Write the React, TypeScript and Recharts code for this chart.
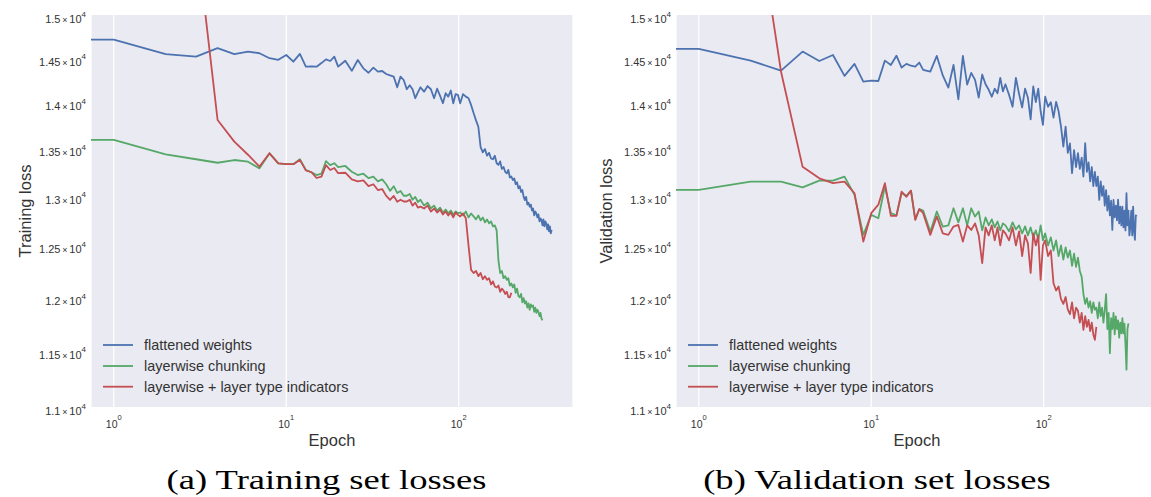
import React from 'react';
import { LineChart, Line, XAxis, YAxis, CartesianGrid } from 'recharts';

// epochs (0.5 stands in for epoch 0, which sits off the log axis)
const EPOCHS = [
  0.5, 1, 2, 3, 4, 5, 6, 7, 8, 9, 10, 11, 12, 13, 14, 15, 16, 17, 18, 19, 20,
  22, 24, 26, 28, 30, 32, 34, 36, 38, 40, 42, 44, 46, 48, 50, 52, 54, 56, 58, 60,
  63, 66, 69, 72, 75, 78, 81, 84, 87, 90, 93, 96, 99,
  102, 106, 110, 114, 118, 122, 126, 130, 134, 138, 142, 146, 150, 154, 158, 162, 166, 170, 174, 178,
  182, 186, 190, 194, 198, 202, 206, 210, 214, 218, 222, 226, 230, 234, 238, 242, 246, 250, 254, 258,
  262, 266, 270, 274, 278, 282, 286, 290, 294, 298, 302, 306, 310, 314, 318, 322, 326, 330, 334, 338,
  342, 346,
];

const TRAIN_FLAT = [
  14711, 14711, 14542, 14514, 14611, 14542, 14572, 14553, 14496, 14477, 14533, 14456, 14545, 14399, 14402, 14399, 14440, 14483, 14464, 14514, 14399,
  14467, 14352, 14475, 14380, 14330, 14388, 14342, 14350, 14316, 14300, 14286, 14166, 14286, 14248, 14144, 14190, 14144, 14044, 14110, 14166,
  14117, 14180, 14144, 14044, 14150, 14070, 13988, 14100, 14062, 14130, 13988, 14090, 14081,
  13988, 14090, 14062, 14044, 13970, 13880, 13800, 13730, 13510, 13456, 13490, 13420, 13450, 13390, 13382, 13420, 13340, 13322, 13360, 13280,
  13300, 13250, 13234, 13270, 13190, 13200, 13164, 13180, 13120, 13140, 13077, 13100, 13040, 13060, 12990, 12957, 12990, 12910, 12930, 12889,
  12910, 12850, 12870, 12800, 12840, 12821, 12780, 12810, 12740, 12770, 12754, 12700, 12760, 12690, 12740, 12720, 12660, 12710, 12640, 12690,
  12620, 12653,
];

const TRAIN_CHUNK = [
  13588, 13588, 13434, 13382, 13345, 13374, 13356, 13286, 13445, 13338, 13330, 13330, 13382, 13269, 13245, 13216, 13230, 13363, 13320, 13340, 13300,
  13311, 13250, 13216, 13230, 13183, 13200, 13150, 13170, 13120, 13051, 13100, 13030, 13050, 13001, 13001, 13020, 12960, 12990, 12937, 12960,
  12900, 12930, 12873, 12900, 12850, 12880, 12830, 12860, 12823, 12850, 12810, 12840, 12823,
  12830, 12800, 12840, 12780, 12820, 12790, 12760, 12800, 12750, 12780, 12730, 12760, 12720, 12740, 12690, 12700, 12650, 12350, 12230, 12250,
  12180, 12200, 12164, 12180, 12110, 12130, 12091, 12120, 12040, 12080, 12010, 11998, 12030, 11950, 11990, 11939, 11960, 11900, 11940, 11880,
  11930, 11908, 11920, 11860, 11900, 11850, 11880, 11860, 11820, 11850, 11798, 11780,
];

const TRAIN_TYPES = [
  26000, 26000, 19000, 16000, 13804, 13570, 13430, 13305, 13445, 13338, 13330, 13330, 13375, 13265, 13245, 13185, 13200, 13320, 13269, 13290, 13235,
  13240, 13170, 13150, 13160, 13100, 13120, 13060, 13070, 13000, 12958, 13000, 12940, 12960, 12942, 12942, 12960, 12900, 12930, 12880, 12890,
  12870, 12900, 12840, 12870, 12830, 12860, 12810, 12840, 12800, 12830, 12780, 12830, 12806,
  12790, 12820, 12772, 12500, 12260, 12230, 12250, 12200, 12230, 12170, 12200, 12164, 12180, 12120, 12150, 12100, 12091, 12110, 12050, 12080,
  12062, 12030, 12050, 12000, 11998, 12040,
];

const VAL_FLAT = [
  14603, 14603, 14468, 14354, 14572, 14464, 14533, 14294, 14431, 14230, 14240, 14237, 14468, 14419, 14525, 14389, 14431, 14410, 14400, 14446, 14363,
  14343, 14522, 14300, 14162, 14419, 14031, 14522, 14197, 14328, 14250, 14052, 14310, 14200, 14138, 14061, 14150, 14100, 14272, 14120, 14200,
  14080, 13950, 14272, 14090, 13942, 14150, 14050, 13810, 14177, 14000, 14150, 13900, 13751,
  14061, 13950, 14000, 13830, 14004, 13900, 13731, 13516, 13731, 13450, 13550, 13235, 13480, 13300, 13446, 13280, 13400, 13200, 13553, 13250,
  13350, 13150, 13300, 13100, 13250, 13100, 13200, 12958, 13150, 13000, 13100, 12900, 13060, 12850, 13000, 12800, 12950, 12654, 12958, 12780,
  12900, 12750, 12960, 12720, 12890, 12700, 12890, 12680, 12850, 12650, 13027, 12700, 12850, 12600, 12688, 12850, 12600, 12890, 12650, 12555,
  12800, 12790,
];

const VAL_CHUNK = [
  13062, 13062, 13148, 13148, 13088, 13158, 13158, 13199, 13010, 12605, 12806, 12772, 13097, 12823, 12800, 13030, 13000, 13054, 12760, 12865, 12850,
  12637, 12840, 12688, 12700, 12873, 12730, 12873, 12700, 12873, 12789, 12840, 12650, 12780, 12700, 12760, 12680, 12740, 12650, 12720, 12700,
  12640, 12730, 12660, 12700, 12620, 12690, 12600, 12680, 12580, 12650, 12560, 12700, 12550,
  12620, 12500, 12580, 12450, 12550, 12395, 12500, 12360, 12480, 12380, 12450, 12300, 12420, 12290, 12380, 12250, 12195, 12028, 11935, 11990,
  11900, 11960, 11850, 11950, 11880, 11900, 11800, 11950, 11820, 11900, 11760, 11880, 12028, 11700, 11850, 11479, 11800, 11700, 11850, 11650,
  11818, 11700, 11780, 11620, 11760, 11660, 11800, 11660, 11750, 11560, 11330, 11700, 11752,
];

const VAL_TYPES = [
  26000, 26000, 16790, 14342, 13302, 13182, 13131, 13148, 13027, 12538, 12823, 12910, 13131, 12796, 12796, 13044, 12990, 13054, 12755, 12865, 12823,
  12605, 12789, 12620, 12605, 12688, 12705, 12538, 12700, 12654, 12720, 12600, 12326, 12680, 12600, 12700, 12550, 12680, 12500, 12650, 12620,
  12550, 12680, 12500, 12640, 12395, 12600, 12520, 12230, 12620, 12500, 12600, 12164, 12500,
  12550, 12395, 12450, 12131, 12062, 12100, 11980, 11935, 12000, 11880, 11838, 11950, 11800, 11900, 11870, 11760, 11850, 11693, 11820, 11720,
  11785, 11680, 11760, 11650, 11600, 11720,
];

const SERIES_KEYS = ['flat', 'chunk', 'types'];
const SERIES_NAMES = ['flattened weights', 'layerwise chunking', 'layerwise + layer type indicators'];
const SERIES_COLORS = ['#4C72B0', '#55A868', '#C44E52'];

const X_TICKS = [1, 10, 100];
const X_TICK_EXPONENTS = ['0', '1', '2'];
const Y_TICKS = [11000, 11500, 12000, 12500, 13000, 13500, 14000, 14500, 15000];
const Y_TICK_MANTISSAS = ['1.1', '1.15', '1.2', '1.25', '1.3', '1.35', '1.4', '1.45', '1.5'];

const SANS = '"Liberation Sans", Arial, sans-serif';
const SERIF = '"Liberation Serif", "Times New Roman", serif';
const TEXT = '#333';

const CHART_W = 573;
const CHART_H = 460;
const PLOT_LEFT = 91;
const PLOT_TOP = 15;
const PLOT_BOTTOM = 407;

const XTick = (props: any) => {
  const { x, y, payload } = props;
  const exp = X_TICK_EXPONENTS[X_TICKS.indexOf(payload.value)];
  return (
    <text x={x} y={y + 21} textAnchor="middle" fontSize={10.5} fill={TEXT} fontFamily={SANS}>
      10<tspan dy={-8} fontSize={7.5}>{exp}</tspan>
    </text>
  );
};

const YTick = (props: any) => {
  const { x, y, payload } = props;
  const m = Y_TICK_MANTISSAS[Y_TICKS.indexOf(payload.value)];
  return (
    <text x={x - 5} y={y + 8} textAnchor="end" fontSize={11} fill={TEXT} fontFamily={SANS}>
      {m}
      <tspan fontSize={9}>{'\u2009×\u2009'}</tspan>
      10<tspan dy={-6.5} fontSize={8}>4</tspan>
    </text>
  );
};

interface PanelProps {
  left: number;
  yLabel: string;
  yLabelX: number;
  flat: number[];
  chunk: number[];
  types: number[];
}

const Panel: React.FC<PanelProps> = ({ left, yLabel, yLabelX, flat, chunk, types }) => {
  const rows = EPOCHS.map((epoch, i) => ({
    epoch,
    flat: flat[i] ?? null,
    chunk: chunk[i] ?? null,
    types: types[i] ?? null,
  }));
  const plotCenterX = PLOT_LEFT + (CHART_W - PLOT_LEFT) / 2;
  const plotCenterY = (PLOT_TOP + PLOT_BOTTOM) / 2;
  const legendRows = [345, 366, 386.7];

  return (
    <div style={{ position: 'absolute', left, top: 0, width: CHART_W, height: CHART_H }}>
      <LineChart
        width={CHART_W}
        height={CHART_H}
        data={rows}
        margin={{ top: PLOT_TOP, right: 0, bottom: 0, left: 0 }}
      >
        <CartesianGrid horizontal={false} stroke="#ffffff" strokeWidth={1.2} fill="#EAEAF2" />
        <XAxis
          dataKey="epoch"
          type="number"
          scale="log"
          domain={[0.738, 460]}
          allowDataOverflow
          ticks={X_TICKS}
          interval={0}
          tick={XTick}
          tickLine={false}
          axisLine={false}
          tickSize={0}
          tickMargin={0}
          height={CHART_H - PLOT_BOTTOM}
        />
        <YAxis
          type="number"
          scale="log"
          domain={[11000, 15000]}
          allowDataOverflow
          ticks={Y_TICKS}
          interval={0}
          tick={YTick}
          tickLine={false}
          axisLine={false}
          tickSize={0}
          tickMargin={0}
          width={PLOT_LEFT}
        />
        {SERIES_KEYS.map((key, i) => (
          <Line
            key={key}
            dataKey={key}
            name={SERIES_NAMES[i]}
            stroke={SERIES_COLORS[i]}
            strokeWidth={1.8}
            strokeLinejoin="round"
            dot={false}
            activeDot={false}
            isAnimationActive={false}
          />
        ))}
      </LineChart>
      <svg
        width={CHART_W}
        height={CHART_H}
        style={{ position: 'absolute', left: 0, top: 0, pointerEvents: 'none' }}
      >
        <text
          transform={`translate(${yLabelX},${plotCenterY}) rotate(-90)`}
          textAnchor="middle"
          fontSize={16.5}
          fill={TEXT}
          fontFamily={SANS}
        >
          {yLabel}
        </text>
        <text x={plotCenterX} y={446} textAnchor="middle" fontSize={16.5} fill={TEXT} fontFamily={SANS}>
          Epoch
        </text>
        {SERIES_NAMES.map((name, i) => (
          <g key={name}>
            <line
              x1={PLOT_LEFT + 12}
              x2={PLOT_LEFT + 42}
              y1={legendRows[i]}
              y2={legendRows[i]}
              stroke={SERIES_COLORS[i]}
              strokeWidth={1.8}
            />
            <text
              x={PLOT_LEFT + 53}
              y={legendRows[i]}
              dominantBaseline="central"
              fontSize={14.4}
              fill={TEXT}
              fontFamily={SANS}
            >
              {name}
            </text>
          </g>
        ))}
      </svg>
    </div>
  );
};

export default function App() {
  return (
    <div
      style={{
        position: 'absolute',
        left: 0,
        top: 0,
        width: 1151,
        height: 497,
        overflow: 'hidden',
        background: '#ffffff',
      }}
    >
      <Panel left={0} yLabel="Training loss" yLabelX={30.5} flat={TRAIN_FLAT} chunk={TRAIN_CHUNK} types={TRAIN_TYPES} />
      <Panel left={585} yLabel="Validation loss" yLabelX={27} flat={VAL_FLAT} chunk={VAL_CHUNK} types={VAL_TYPES} />
      <svg width={1151} height={497} style={{ position: 'absolute', left: 0, top: 0, pointerEvents: 'none' }}>
        <text
          transform="translate(326.5,489) scale(1.33,1)"
          textAnchor="middle"
          fontSize={27.5}
          fill="#000"
          fontFamily={SERIF}
        >
          (a) Training set losses
        </text>
        <text
          transform="translate(877,489) scale(1.33,1)"
          textAnchor="middle"
          fontSize={27.5}
          fill="#000"
          fontFamily={SERIF}
        >
          (b) Validation set losses
        </text>
      </svg>
    </div>
  );
}
